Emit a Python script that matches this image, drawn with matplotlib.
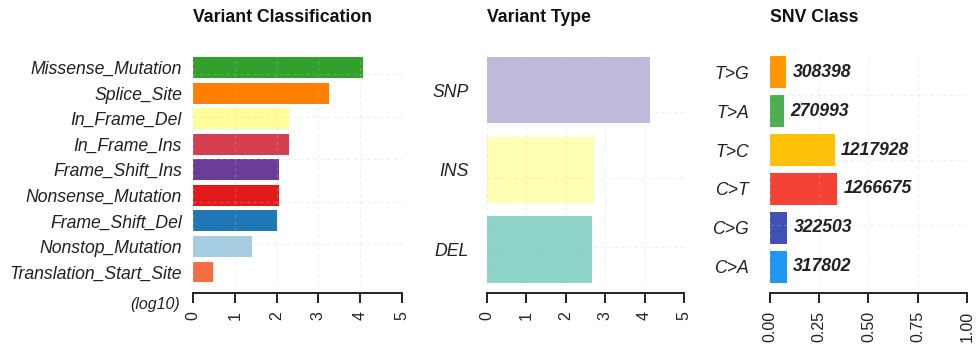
import matplotlib
matplotlib.use("Agg")
import matplotlib.pyplot as plt
import matplotlib.transforms as mtransforms
import numpy as np

plt.rcParams['font.family'] = ['Liberation Sans', 'DejaVu Sans']

# Variant classification (log10 counts), top to bottom
vc_labels = ["Missense_Mutation", "Splice_Site", "In_Frame_Del", "In_Frame_Ins",
             "Frame_Shift_Ins", "Nonsense_Mutation", "Frame_Shift_Del",
             "Nonstop_Mutation", "Translation_Start_Site"]
vc_log10 = [4.07, 3.26, 2.30, 2.30, 2.05, 2.05, 2.00, 1.40, 0.48]
vc_colors = ["#33A02C", "#FF7F00", "#FFFF99", "#D53E4F", "#6A3D9A",
             "#E31A1C", "#1F78B4", "#A6CEE3", "#F46D43"]

# Variant type (log10 counts), top to bottom
vt_labels = ["SNP", "INS", "DEL"]
vt_log10 = [4.14, 2.72, 2.67]
vt_colors = ["#BEBADA", "#FFFFB3", "#8DD3C7"]

# SNV class counts, top to bottom
snv_labels = ["T>G", "T>A", "T>C", "C>T", "C>G", "C>A"]
snv_counts = [308398, 270993, 1217928, 1266675, 322503, 317802]
snv_colors = ["#FF9800", "#4CAF50", "#FFC107", "#F44336", "#3F51B5", "#2196F3"]

TXT = "#222222"
FS = 12.7

fig = plt.figure(figsize=(9.78, 3.46), dpi=100)
W, H = 978, 346
top_px, bot_px = 55, 284


def make_axes(x0, x1):
    return fig.add_axes([x0 / W, 1 - bot_px / H, (x1 - x0) / W, (bot_px - top_px) / H])


def style(ax, xticks, xticklabels, xlim, title, ylab_pad):
    ax.set_xlim(*xlim)
    for s in ("top", "right", "left"):
        ax.spines[s].set_visible(False)
    ax.spines["bottom"].set_position(("outward", 6.5))
    ax.spines["bottom"].set_bounds(xticks[0], xticks[-1])
    ax.spines["bottom"].set_linewidth(1.4)
    ax.spines["bottom"].set_color("#222222")
    ax.set_xticks(xticks)
    ax.set_xticklabels(xticklabels, rotation=90, fontsize=11.5, color=TXT)
    ax.tick_params(axis="x", length=7, width=1.4, color="#222222", pad=6)
    ax.tick_params(axis="y", length=0, pad=ylab_pad, labelsize=FS, labelcolor=TXT)
    for lab in ax.get_yticklabels():
        lab.set_fontstyle("italic")
    trans = mtransforms.blended_transform_factory(ax.transData, fig.transFigure)
    ax.text(0, 1 - 17 / H, title, transform=trans, fontsize=FS,
            fontweight="bold", color="#111111", ha="left", va="center")


def grid(ax, xs, ys):
    for x in xs:
        ax.axvline(x, color="#c8c8c8", lw=0.8, ls=(0, (3, 3)), alpha=0.3, zorder=3)
    for y in ys:
        ax.axhline(y, color="#c8c8c8", lw=0.8, ls=(0, (3, 3)), alpha=0.3, zorder=3)


# Panel 1: Variant Classification
ax1 = make_axes(193, 402)
n1 = len(vc_labels)
y1 = np.arange(n1)[::-1]
ax1.barh(y1, vc_log10, height=0.82, color=vc_colors, zorder=2)
ax1.set_ylim(-0.47, n1 - 1 + 0.49)
ax1.set_yticks(y1)
ax1.set_yticklabels(vc_labels)
grid(ax1, range(6), [(v - 0.7) / 1.2 for v in (2, 4, 6, 8, 10)])
style(ax1, [0, 1, 2, 3, 4, 5], ["0", "1", "2", "3", "4", "5"], (0, 5),
      "Variant Classification", 8)
ax1.text(-0.3, -1.29, "(log10)", fontsize=11.5, style="italic", color=TXT,
         ha="right", va="center", transform=ax1.transData, clip_on=False)

# Panel 2: Variant Type
ax2 = make_axes(487, 684)
n2 = len(vt_labels)
y2 = np.arange(n2)[::-1]
ax2.barh(y2, vt_log10, height=0.83, color=vt_colors, zorder=2)
ax2.set_ylim(-0.433, n2 - 1 + 0.439)
ax2.set_yticks(y2)
ax2.set_yticklabels(vt_labels)
grid(ax2, range(6), [0.03, 0.9, 1.73])
style(ax2, [0, 1, 2, 3, 4, 5], ["0", "1", "2", "3", "4", "5"], (0, 5),
      "Variant Type", 13)

# Panel 3: SNV Class (fraction of all SNVs)
ax3 = make_axes(770, 967)
n3 = len(snv_labels)
y3 = np.arange(n3)[::-1]
frac = np.array(snv_counts) / np.sum(snv_counts)
ax3.barh(y3, frac, height=0.82, color=snv_colors, zorder=2)
ax3.set_ylim(-0.436, n3 - 1 + 0.436)
ax3.set_yticks(y3)
ax3.set_yticklabels(snv_labels)
for yy, f, c in zip(y3, frac, snv_counts):
    ax3.annotate(str(c), (f, yy), xytext=(4.5, 0), textcoords="offset points",
                 fontsize=FS, fontweight="bold", style="italic", color=TXT,
                 ha="left", va="center", zorder=4)
grid(ax3, [0, 0.25, 0.5, 0.75, 1.0], [(v - 0.7) / 1.2 for v in (2, 4, 6)])
style(ax3, [0, 0.25, 0.5, 0.75, 1.0], ["0.00", "0.25", "0.50", "0.75", "1.00"],
      (0, 1), "SNV Class", 15)

fig.savefig("out.png", dpi=100, facecolor="white")
